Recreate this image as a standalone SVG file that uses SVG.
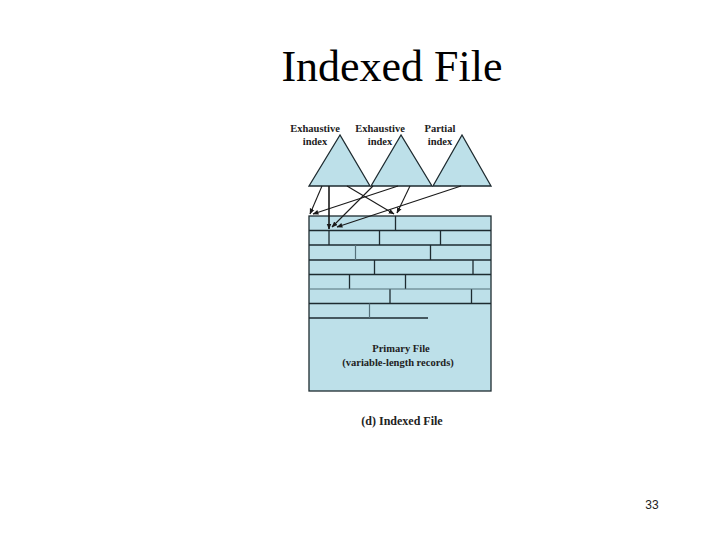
<svg xmlns="http://www.w3.org/2000/svg" width="720" height="540" viewBox="0 0 720 540">
<style>
.title{font-family:"Liberation Serif","Times New Roman",serif;font-size:44px;fill:#000}
.lbl{font-family:"Liberation Serif","Times New Roman",serif;font-size:10.5px;font-weight:bold;fill:#222;text-anchor:middle}
.cap{font-family:"Liberation Serif","Times New Roman",serif;font-size:12px;font-weight:bold;fill:#222;text-anchor:middle}
.pg{font-family:"Liberation Sans",Arial,sans-serif;font-size:12px;fill:#222;text-anchor:middle}
.shape{fill:#bde0e9;stroke:#1e2b30;stroke-width:1.3}
.rec{stroke:#1e2b30;stroke-width:1.3;fill:none}
.rec2{stroke:#55707a;stroke-width:1.2;fill:none}
.conn{stroke:#1a1a1a;stroke-width:1.1;fill:none;marker-end:url(#ah)}
</style>
<defs>
<marker id="ah" viewBox="0 0 10 10" refX="9" refY="5" markerWidth="6" markerHeight="6" orient="auto" markerUnits="userSpaceOnUse">
<path d="M0,1 L10,5 L0,9 z" fill="#1a1a1a"/>
</marker>
</defs>
<rect width="720" height="540" fill="#fff"/>
<text class="title" x="392" y="81" text-anchor="middle">Indexed File</text>

<g id="exhaustive-index-1">
<polygon class="shape" points="340,135 309,186 370,186"/>
<text class="lbl" x="315" y="132">Exhaustive</text>
<text class="lbl" x="315" y="145">index</text>
</g>
<g id="exhaustive-index-2">
<polygon class="shape" points="401,135 371,186 432,186"/>
<text class="lbl" x="380" y="132">Exhaustive</text>
<text class="lbl" x="380" y="145">index</text>
</g>
<g id="partial-index">
<polygon class="shape" points="462,135 433,186 491,186"/>
<text class="lbl" x="440" y="132">Partial</text>
<text class="lbl" x="440" y="145">index</text>
</g>

<g id="primary-file">
<rect class="shape" x="309" y="216" width="182" height="175"/>
<g class="rec">
<line x1="309" y1="230.5" x2="491" y2="230.5"/>
<line x1="309" y1="245" x2="491" y2="245"/>
<line x1="309" y1="260" x2="491" y2="260"/>
<line x1="309" y1="274.5" x2="491" y2="274.5"/>
<line x1="309" y1="303.5" x2="491" y2="303.5"/>
<line x1="309" y1="318" x2="428" y2="318"/>
<line x1="395.5" y1="216" x2="395.5" y2="230.5"/>
<line x1="329" y1="230.5" x2="329" y2="245"/>
<line x1="379.5" y1="230.5" x2="379.5" y2="245"/>
<line x1="440.5" y1="230.5" x2="440.5" y2="245"/>
<line x1="430.5" y1="245" x2="430.5" y2="260"/>
<line x1="374.5" y1="260" x2="374.5" y2="274.5"/>
<line x1="473" y1="260" x2="473" y2="274.5"/>
<line x1="349.5" y1="274.5" x2="349.5" y2="289"/>
<line x1="405.5" y1="274.5" x2="405.5" y2="289"/>
<line x1="390" y1="289" x2="390" y2="303.5"/>
<line x1="471.5" y1="289" x2="471.5" y2="303.5"/>
</g>
<g class="rec2">
<line x1="309" y1="289" x2="491" y2="289"/>
<line x1="355.5" y1="245" x2="355.5" y2="260"/>
<line x1="369.5" y1="303.5" x2="369.5" y2="318"/>
</g>
<text class="lbl" x="401" y="352">Primary File</text>
<text class="lbl" x="398" y="366">(variable-length records)</text>
</g>

<g id="connectors">
<line class="conn" x1="322" y1="186" x2="310" y2="214"/>
<line class="conn" x1="329" y1="186" x2="329" y2="229" style="stroke-width:1.6"/>
<line class="conn" x1="347" y1="186" x2="394" y2="214"/>
<line class="conn" x1="373" y1="186" x2="332" y2="227"/>
<line class="conn" x1="398" y1="186" x2="313" y2="214"/>
<line class="conn" x1="410" y1="186" x2="397" y2="213"/>
<line class="conn" x1="461" y1="186" x2="337" y2="227"/>
</g>

<text class="cap" x="402" y="425">(d) Indexed File</text>
<text class="pg" x="652" y="509">33</text>
</svg>
